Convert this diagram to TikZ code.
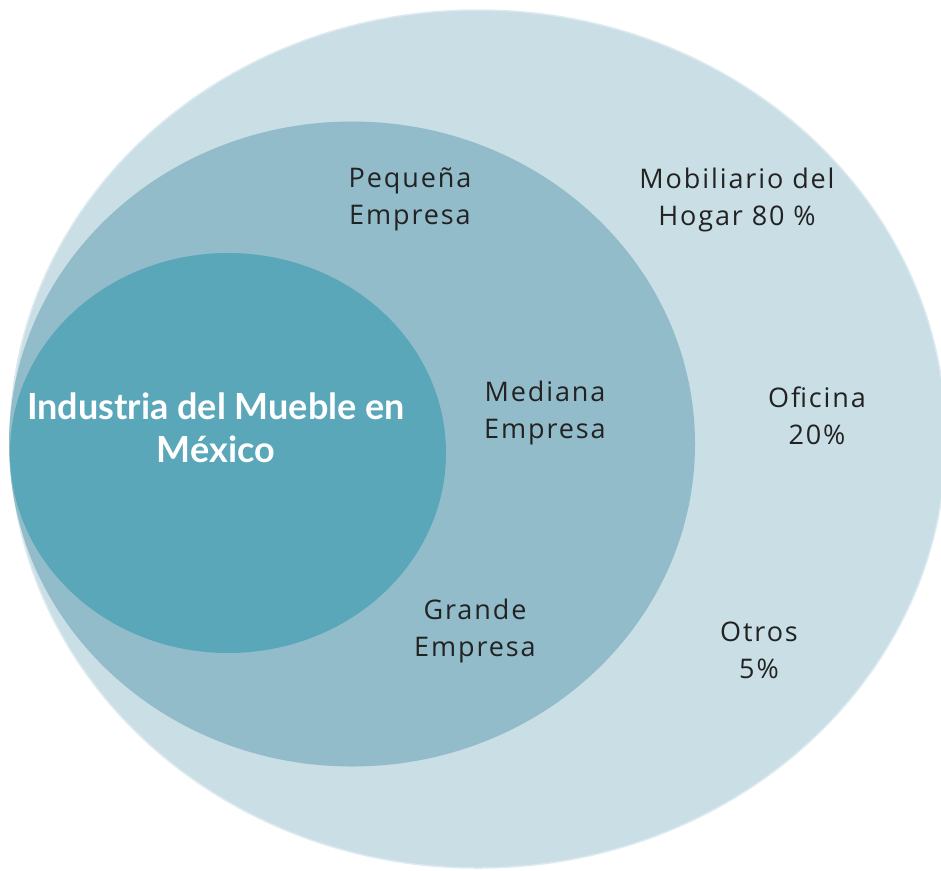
\documentclass[tikz,border=0pt]{standalone}
\usepackage{fontspec}
\usetikzlibrary{shapes.geometric}
\newfontfamily\labelfont[LetterSpace=7]{Open Sans}
\newfontfamily\titlefont{Lato}
\definecolor{CTealOuter}{HTML}{C9DEE5}
\definecolor{CTealMid}{HTML}{93BCCA}
\definecolor{CTealInner}{HTML}{5AA7BA}
\definecolor{CRim}{HTML}{DDEAEF}
\definecolor{CInk}{HTML}{222222}

\begin{document}
\begin{tikzpicture}[
    x=1pt, y=-1pt,
    ring/.style={ellipse, inner sep=0pt},
    lbl/.style={text=CInk, align=center, font=\labelfont\fontsize{27}{37}\selectfont},
    ttl/.style={text=white, align=center, font=\titlefont\bfseries\fontsize{36}{43}\selectfont}
]
  \useasboundingbox (0,0) rectangle (941,870);
  % rings
  \node[ring, fill=CTealOuter, draw=CRim, line width=1.5pt, minimum width=936pt, minimum height=858pt] (outer) at (478,439) {};
  \node[ring, fill=CTealMid, minimum width=686pt, minimum height=645pt] (mid) at (352,444) {};
  \node[ring, fill=CTealInner, minimum width=436pt, minimum height=400pt] (inner) at (228,453) {};
  % labels
  \node[ttl] (industria) at (216,428) {Industria del Mueble en\\México};
  \node[lbl] (pequena) at (410,199) {Pequeña\\Empresa};
  \node[lbl] (mediana) at (545,413) {Mediana\\Empresa};
  \node[lbl] (grande) at (475,631) {Grande\\Empresa};
  \node[lbl] (hogar) at (737,200) {Mobiliario del\\Hogar 80 \%};
  \node[lbl] (oficina) at (817,416) {Oficina\\20\%};
  \node[lbl] (otros) at (759,650) {Otros\\5\%};
\end{tikzpicture}
\end{document}
